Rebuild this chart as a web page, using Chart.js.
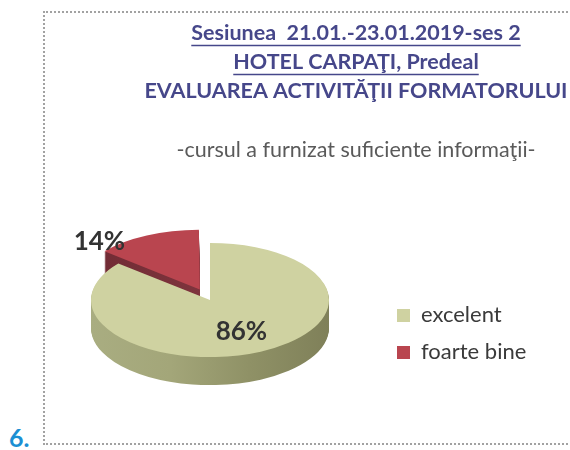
<!DOCTYPE html>
<html lang="ro">
<head>
<meta charset="UTF-8">
<title>Evaluarea activitatii formatorului</title>
<script src="https://cdn.jsdelivr.net/npm/chart.js"></script>
<style>
  body { margin: 0; background: #fff; }
  #pagina { position: relative; width: 570px; height: 450px; overflow: hidden; }
  #chenar { position: absolute; left: 43px; top: 11px; width: 620px; height: 430px; border: 2px dotted #a2a2a2; }
  #numar { position: absolute; left: 9px; top: 422px; font: bold 25px Lato, sans-serif; color: #1c8fd3; }
  #grafic { position: absolute; left: 0; top: 0; }
</style>
</head>
<body>
<div id="pagina">
  <div id="chenar"></div>
  <div id="numar">6.</div>
  <canvas id="grafic" width="570" height="450"></canvas>
</div>
<script>
const categorii = ['excelent', 'foarte bine'];
const procente = [86, 14];
const culori = ['#cfd2a1', '#b9454f'];
// culorile peretelui lateral, de la stanga la dreapta
const culoriLaterale = [
  ['#a9ad81', '#a3a679', '#8f9166', '#7f8059'],
  ['#6f2a33', '#7e343d', '#6a2830']
];
const titlu = ['Sesiunea  21.01.-23.01.2019-ses 2', 'HOTEL CARPAŢI, Predeal', 'EVALUAREA ACTIVITĂŢII FORMATORULUI'];
const subtitlu = '-cursul a furnizat suficiente informaţii-';

// pozitia si inclinarea placii 3D
const PIE_X = 210, PIE_Y = 300, TILT = 0.48, DEPTH = 28, RAZA = 119;
const TITLU_SUS = 19, TITLU_LINIE = 29;
const LEGENDA_X = 397;

function inclina(ctx, c) {
  ctx.translate(PIE_X, PIE_Y);
  ctx.scale(1, TILT);
  ctx.translate(-c.x, -c.y);
}

const placa3d = {
  id: 'placa3d',
  beforeDatasetsDraw(chart) {
    const ctx = chart.ctx;
    const arcs = chart.getDatasetMeta(0).data;
    const c = arcs[0];
    ctx.save();
    inclina(ctx, c);
    // peretii laterali, din spate spre fata
    for (let i = arcs.length - 1; i >= 0; i--) {
      const arc = arcs[i];
      const grad = ctx.createLinearGradient(c.x - RAZA, 0, c.x + RAZA, 0);
      const stops = culoriLaterale[i];
      stops.forEach((col, j) => grad.addColorStop(j / (stops.length - 1), col));
      const orig = arc.options;
      arc.options = Object.assign({}, orig, { backgroundColor: grad, borderWidth: 0 });
      for (let d = DEPTH; d > 0; d--) {
        ctx.save();
        ctx.translate(0, d / TILT);
        arc.draw(ctx);
        ctx.restore();
      }
      arc.options = orig;
    }
  },
  afterDatasetsDraw(chart) {
    const ctx = chart.ctx;
    ctx.restore();
    const arcs = chart.getDatasetMeta(0).data;
    const c = arcs[0];
    const total = procente.reduce((a, b) => a + b, 0);
    ctx.save();
    ctx.font = 'bold 26px Lato, sans-serif';
    ctx.fillStyle = '#333333';
    ctx.textBaseline = 'middle';
    arcs.forEach((arc, i) => {
      const mid = (arc.startAngle + arc.endAngle) / 2;
      // ArcElement deplaseaza felia cu offset / 4
      const off = (arc.options.offset || 0) / 4;
      const cx = c.x + Math.cos(mid) * off;
      const cy = c.y + Math.sin(mid) * off;
      const text = Math.round(procente[i] / total * 100) + '%';
      if (procente[i] / total < 0.2) {
        // felie mica: eticheta in afara, spre stanga
        const x = cx + Math.cos(mid) * arc.outerRadius;
        const y = cy + Math.sin(mid) * arc.outerRadius;
        ctx.textAlign = 'right';
        ctx.fillText(text, PIE_X + x - c.x - 24, PIE_Y + (y - c.y) * TILT + 4);
      } else {
        const r = arc.outerRadius * 0.62;
        const x = cx + Math.cos(mid) * r;
        const y = cy + Math.sin(mid) * r;
        ctx.textAlign = 'center';
        ctx.fillText(text, PIE_X + x - c.x, PIE_Y + (y - c.y) * TILT);
      }
    });
    ctx.restore();
  }
};

// legenda se muta spre stanga, langa placa
const mutaLegenda = {
  id: 'mutaLegenda',
  afterLayout(chart) {
    const l = chart.legend;
    const dx = LEGENDA_X - (l.left + l.options.labels.padding);
    l.left += dx;
    l.right += dx;
  }
};

// sublinierea primelor doua randuri din titlu
const subliniere = {
  id: 'subliniere',
  afterDraw(chart) {
    const t = chart.titleBlock;
    const ctx = chart.ctx;
    const f = Chart.helpers.toFont(chart.options.plugins.title.font);
    ctx.save();
    ctx.font = f.string;
    ctx.strokeStyle = '#46478a';
    ctx.lineWidth = 1.6;
    const xc = (t.left + t.right) / 2;
    [0, 1].forEach(i => {
      const w = ctx.measureText(titlu[i]).width;
      const y = t.top + TITLU_SUS + TITLU_LINIE / 2 + i * TITLU_LINIE + 12;
      ctx.beginPath();
      ctx.moveTo(xc - w / 2, y);
      ctx.lineTo(xc + w / 2, y);
      ctx.stroke();
    });
    ctx.restore();
  }
};

new Chart(document.getElementById('grafic'), {
  type: 'pie',
  data: {
    labels: categorii,
    datasets: [{
      data: procente,
      backgroundColor: culori,
      borderWidth: 0,
      offset: [0, 96],
      clip: false
    }]
  },
  options: {
    responsive: false,
    animation: false,
    radius: RAZA,
    layout: { padding: { left: 142, right: 0, top: 0, bottom: 0 } },
    plugins: {
      tooltip: { enabled: false },
      title: {
        display: true,
        text: titlu,
        color: '#46478a',
        font: { family: 'Lato', size: 21.5, weight: 'bold', lineHeight: TITLU_LINIE / 21.5 },
        padding: { top: TITLU_SUS, bottom: 10 }
      },
      subtitle: {
        display: true,
        text: subtitlu,
        color: '#5a5a5a',
        font: { family: 'Lato', size: 21.5, weight: 'normal' },
        padding: { top: 21, bottom: 55 }
      },
      legend: {
        position: 'right',
        fullSize: false,
        labels: {
          color: '#3a3a3a',
          font: { family: 'Lato', size: 22 },
          boxWidth: 13,
          boxHeight: 13,
          padding: 15
        }
      }
    }
  },
  plugins: [placa3d, mutaLegenda, subliniere]
});
</script>
</body>
</html>
